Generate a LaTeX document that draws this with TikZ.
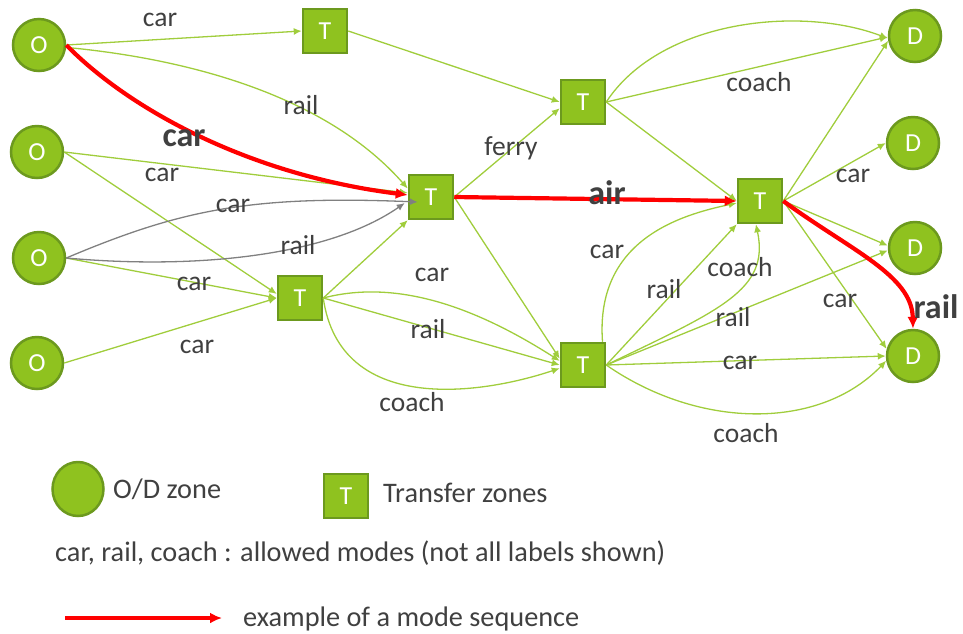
\documentclass[tikz,border=0pt]{standalone}
\usepackage{fontspec}
\setmainfont{Carlito}
\usetikzlibrary{arrows.meta,shapes.geometric}
\definecolor{zonefill}{RGB}{143,194,31}
\definecolor{zoneline}{RGB}{108,153,30}
\definecolor{linkgreen}{RGB}{160,205,60}
\definecolor{linkgray}{RGB}{128,128,128}
\definecolor{pathred}{RGB}{255,0,0}
\definecolor{labelgray}{RGB}{64,64,64}
\begin{document}
\begin{tikzpicture}[x=1pt,y=-1pt,
  zone/.style={circle,fill=zonefill,draw=zoneline,line width=2.5pt,minimum size=52pt,inner sep=0pt,text=white,font=\fontsize{26}{30}\selectfont},
  legendzone/.style={ellipse,fill=zonefill,draw=zoneline,line width=2.5pt,minimum width=51pt,minimum height=54pt,inner sep=0pt},
  transfer/.style={rectangle,fill=zonefill,draw=zoneline,line width=2.5pt,minimum size=44pt,inner sep=0pt,text=white,font=\fontsize{26}{30}\selectfont},
  link/.style={draw=linkgreen,line width=1.3pt,-{Latex[length=8pt,width=7pt]}},
  grlink/.style={draw=linkgray,line width=1.3pt,-{Latex[length=8pt,width=7pt]}},
  seq/.style={draw=pathred,line width=4.2pt,-{Latex[length=12pt,width=11pt]}},
  lbl/.style={text=labelgray,font=\fontsize{27.5}{32}\selectfont,inner sep=0pt},
  blbl/.style={text=labelgray,font=\fontsize{34}{38}\selectfont\bfseries,inner sep=0pt},
  lgtext/.style={text=labelgray,font=\fontsize{28.3}{33}\selectfont,inner sep=0pt},
]
\useasboundingbox (0,0) rectangle (963,633);

% origin zones
\node[zone] (O1) at (39,45) {O};
\node[zone] (O2) at (37,152) {O};
\node[zone] (O3) at (39,258) {O};
\node[zone] (O4) at (37,363) {O};
% destination zones
\node[zone] (D1) at (915,36) {D};
\node[zone] (D2) at (913,143) {D};
\node[zone] (D3) at (915,248) {D};
\node[zone] (D4) at (913,356) {D};
% transfer zones
\node[transfer] (T1) at (325,31) {T};
\node[transfer] (T2) at (431,197) {T};
\node[transfer] (T3) at (300,298) {T};
\node[transfer] (T4) at (583,102) {T};
\node[transfer] (T5) at (760,201) {T};
\node[transfer] (T6) at (583,365) {T};

% links from the origins
\draw[link] (O1.east) -- (T1.west);
\draw[link] (O1.-5) .. controls (200,60) and (330,100) .. (T2.160);
\draw[link] (O2.east) -- (T2.170);
\draw[link] (O2.east) -- (T3.170);
\draw[link] (O3.east) -- (T3.west);
\draw[link] (O4.east) -- (T3.west);
\coordinate (g1) at ([shift={(10,5)}]T2.west);
\coordinate (g2) at ([shift={(-3,6)}]T2.west);
\draw[grlink] (O3.east) .. controls (180,210) and (250,195) .. (g1);
\draw[grlink] (O3.east) .. controls (200,270) and (330,255) .. (g2);

% links between transfer zones
\draw[link] (T1.east) -- (T4.west);
\draw[link] (T2.east) -- (T4.195);
\draw[link] (T2.east) -- (T6.165);
\draw[link] (T3.east) -- (T2.south west);
\draw[link] (T3.east) .. controls (400,278) and (480,310) .. (T6.170);
\draw[link] (T3.east) -- (T6.west);
\draw[link] (T3.east) .. controls (340,415) and (480,395) .. (T6.188);
\draw[link] (T4.east) -- (T5.west);
\draw[link] (T6.50) .. controls (595,240) and (680,215) .. (T5.185);
\draw[link] (T6.east) -- (T5.south west);
\draw[link] (T6.east) .. controls (720,310) and (770,290) .. (T5.-100);

% links to the destinations
\draw[link] (T4.east) .. controls (660,20) and (800,5) .. (D1.185);
\draw[link] (T4.east) -- (D1.182);
\draw[link] (T5.east) -- (D1.190);
\draw[link] (T5.east) -- (D2.west);
\draw[link] (T5.east) -- (D3.175);
\draw[link] (T5.east) -- (D4.165);
\draw[link] (T6.east) -- (D3.185);
\draw[link] (T6.east) -- (D4.west);
\draw[link] (T6.east) .. controls (700,430) and (820,430) .. (D4.190);

% highlighted mode sequence
\draw[seq] (O1.east) .. controls (130,110) and (250,175) .. (T2.175);
\draw[seq] (T2.east) -- (T5.west);
\draw[seq] (T5.east) .. controls (850,250) and (912,275) .. (D4.north);

% mode labels
\node[lbl] (m1) at (160,20) {car};
\node[lbl] (m2) at (301,105) {rail};
\node[lbl] (m3) at (162,175) {car};
\node[lbl] (m4) at (233,206) {car};
\node[lbl] (m5) at (298,245) {rail};
\node[lbl] (m6) at (194,284) {car};
\node[lbl] (m7) at (197,347) {car};
\node[lbl] (m8) at (432,275) {car};
\node[lbl] (m9) at (428,329) {rail};
\node[lbl] (m10) at (412,402) {coach};
\node[lbl] (m11) at (511,148) {ferry};
\node[lbl] (m12) at (759,82) {coach};
\node[lbl] (m13) at (853,176) {car};
\node[lbl] (m14) at (607,252) {car};
\node[lbl] (m15) at (664,289) {rail};
\node[lbl] (m16) at (740,267) {coach};
\node[lbl] (m17) at (733,317) {rail};
\node[lbl] (m18) at (840,301) {car};
\node[lbl] (m19) at (740,363) {car};
\node[lbl] (m20) at (746,433) {coach};
\node[blbl] (b1) at (184,138) {car};
\node[blbl] (b2) at (607,193) {air};
\node[blbl] (b3) at (936,307) {rail};

% legend
\node[legendzone] (lz) at (78,489) {};
\node[lgtext,anchor=base west] (tz) at (113,498) {O/D zone};
\node[transfer] (lt) at (346,496) {T};
\node[lgtext,anchor=base west] (tt) at (383,502) {Transfer zones};
\node[lgtext,anchor=base west] (tm) at (55,561) {car, rail, coach : allowed modes (not all labels shown)};
\coordinate (a0) at (65,618);
\coordinate (a1) at (222,618);
\draw[seq] (a0) -- (a1);
\node[lgtext,anchor=base west] (te) at (243,626) {example of a mode sequence};
\end{tikzpicture}
\end{document}
